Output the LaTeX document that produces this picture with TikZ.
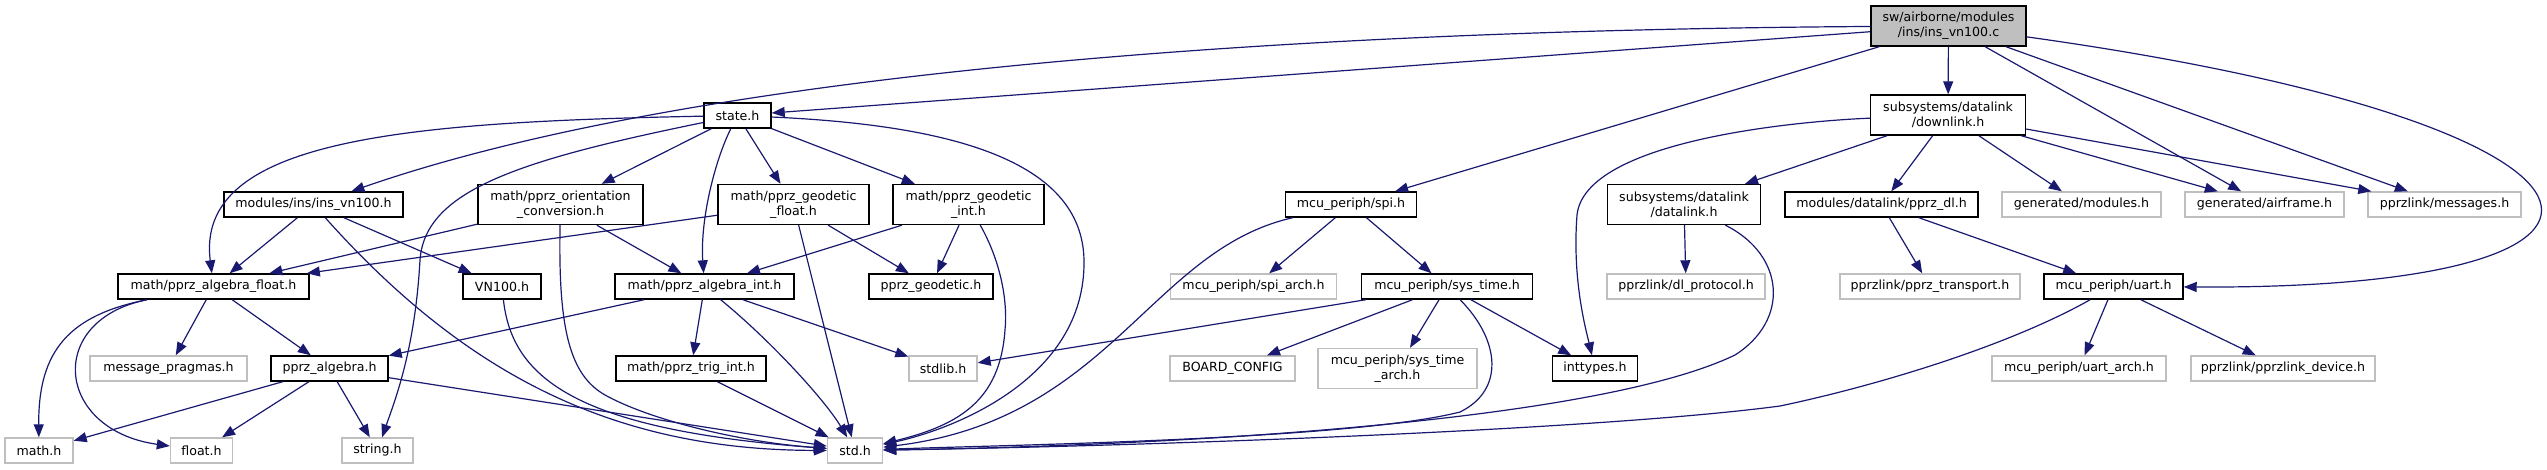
\documentclass[tikz,border=0pt]{standalone}
\usepackage{fontspec}
\setmainfont{DejaVu Sans}
\usetikzlibrary{arrows.meta}
\definecolor{edgec}{HTML}{191970}
\definecolor{greyb}{HTML}{BFBFBF}
\begin{document}
\begin{tikzpicture}[x=1pt,y=-1pt,
  box/.style={draw=black, line width=1.4pt, minimum height=25pt, inner sep=0pt, fill=white,
    font=\fontsize{12.6}{15}\selectfont, align=center},
  gbox/.style={box, draw=greyb},
  two/.style={minimum height=40pt},
  edge/.style={draw=edgec, line width=1.2pt, -{Triangle[length=13pt,width=10pt]}},
]
\useasboundingbox (0,0) rectangle (2547,469);
% rank 0/1
\node[box, two, fill=greyb, minimum width=155pt] (root) at (1948.5,26) {sw/airborne/modules\\/ins/ins\_vn100.c};
\node[box, minimum width=67pt] (state) at (737.5,115.5) {state.h};
\node[box, two, minimum width=155pt] (downlink) at (1948,115) {subsystems/datalink\\/downlink.h};
% rank 2
\node[box, minimum width=179pt] (insh) at (313.5,204.5) {modules/ins/ins\_vn100.h};
\node[box, two, minimum width=165pt] (orient) at (560.5,204.5) {math/pprz\_orientation\\\_conversion.h};
\node[box, two, minimum width=151pt] (geof) at (793.5,204.5) {math/pprz\_geodetic\\\_float.h};
\node[box, two, minimum width=151pt] (geoi) at (968.5,204.5) {math/pprz\_geodetic\\\_int.h};
\node[box, minimum width=131pt] (spi) at (1351,204.5) {mcu\_periph/spi.h};
\node[box, two, minimum width=153pt] (datalink) at (1684,204.5) {subsystems/datalink\\/datalink.h};
\node[box, minimum width=193pt] (ppdl) at (1881.5,204.5) {modules/datalink/pprz\_dl.h};
\node[gbox, minimum width=159pt] (genmod) at (2081.5,204.5) {generated/modules.h};
\node[gbox, minimum width=159pt] (genair) at (2264.5,204.5) {generated/airframe.h};
\node[gbox, minimum width=153pt] (msgs) at (2444.5,204.5) {pprzlink/messages.h};
% rank 3
\node[box, minimum width=191pt] (algf) at (213.5,286.5) {math/pprz\_algebra\_float.h};
\node[box, minimum width=78pt] (vn100) at (502,286.5) {VN100.h};
\node[box, minimum width=179pt] (algi) at (704.5,286.5) {math/pprz\_algebra\_int.h};
\node[box, minimum width=124pt] (geod) at (931,286.5) {pprz\_geodetic.h};
\node[gbox, minimum width=166pt] (spiarch) at (1253.5,286.5) {mcu\_periph/spi\_arch.h};
\node[box, minimum width=171pt] (systime) at (1447,286.5) {mcu\_periph/sys\_time.h};
\node[gbox, minimum width=158pt] (dlproto) at (1686,286.5) {pprzlink/dl\_protocol.h};
\node[gbox, minimum width=180pt] (transport) at (1930,286.5) {pprzlink/pprz\_transport.h};
\node[box, minimum width=139pt] (uart) at (2113.5,286.5) {mcu\_periph/uart.h};
% rank 4
\node[gbox, minimum width=157pt] (pragmas) at (168.5,368.5) {message\_pragmas.h};
\node[box, minimum width=117pt] (alg) at (329.5,368.5) {pprz\_algebra.h};
\node[box, minimum width=150pt] (trig) at (691,368.5) {math/pprz\_trig\_int.h};
\node[gbox, minimum width=68pt] (stdlib) at (943,368.5) {stdlib.h};
\node[gbox, minimum width=125pt] (board) at (1232.5,368.5) {BOARD\_CONFIG};
\node[gbox, two, minimum width=159pt] (starch) at (1397.5,368.5) {mcu\_periph/sys\_time\\\_arch.h};
\node[box, minimum width=85pt] (inttypes) at (1595,368.5) {inttypes.h};
\node[gbox, minimum width=174pt] (uarch) at (2079,368.5) {mcu\_periph/uart\_arch.h};
\node[gbox, minimum width=184pt] (device) at (2283,368.5) {pprzlink/pprzlink\_device.h};
% rank 5
\node[gbox, minimum width=68pt] (math) at (39,450.5) {math.h};
\node[gbox, minimum width=62pt] (float) at (201.5,450.5) {float.h};
\node[gbox, minimum width=71pt] (string) at (377.5,450.5) {string.h};
\node[gbox, minimum width=55pt] (std) at (855,450.5) {std.h};

% root edges
\draw[edge] (root) -- (state);
\draw[edge] (root) .. controls (1300,30) and (700,70) .. (insh);
\draw[edge] (root) -- (spi);
\draw[edge] (root) -- (downlink);
\draw[edge] (root) -- (genair);
\draw[edge] (root) -- (msgs);
\draw[edge] (root) .. controls (2660,125) and (2700,290) .. (uart);
% downlink
\draw[edge] (downlink) -- (datalink);
\draw[edge] (downlink) -- (ppdl);
\draw[edge] (downlink) -- (genmod);
\draw[edge] (downlink) -- (genair);
\draw[edge] (downlink) -- (msgs);
\draw[edge] (downlink) .. controls (1800,121) and (1585,140) .. (1577,215) .. controls (1572,280) and (1586,330) .. (inttypes);
% state
\draw[edge] (state) .. controls (400,122) and (195,140) .. (algf);
\draw[edge] (state) .. controls (520,160) and (425,190) .. (420,260) .. controls (415,350) and (395,400) .. (string);
\draw[edge] (state) -- (orient);
\draw[edge] (state) .. controls (715,160) and (700,220) .. (algi);
\draw[edge] (state) -- (geof);
\draw[edge] (state) -- (geoi);
\draw[edge] (state) .. controls (950,125) and (1082,160) .. (1084,260) .. controls (1086,380) and (950,430) .. (std);
% ins_vn100.h
\draw[edge] (insh) -- (algf);
\draw[edge] (insh) -- (vn100);
\draw[edge] (insh) .. controls (470,380) and (620,450) .. (std);
% orientation
\draw[edge] (orient) -- (algf);
\draw[edge] (orient) -- (algi);
\draw[edge] (orient) .. controls (558,330) and (570,375) .. (605,395) .. controls (650,420) and (740,442) .. (std);
% geodetic float / int
\draw[edge] (geof) -- (algf);
\draw[edge] (geof) -- (geod);
\draw[edge] (geof) -- (std);
\draw[edge] (geoi) -- (algi);
\draw[edge] (geoi) -- (geod);
\draw[edge] (geoi) .. controls (1000,260) and (1008,300) .. (1005,330) .. controls (1000,400) and (960,425) .. (std);
% algebra int
\draw[edge] (algi) -- (alg);
\draw[edge] (algi) -- (trig);
\draw[edge] (algi) .. controls (770,340) and (825,400) .. (std);
\draw[edge] (algi) -- (stdlib);
% pprz_algebra
\draw[edge] (alg) -- (math);
\draw[edge] (alg) -- (float);
\draw[edge] (alg) -- (string);
\draw[edge] (alg) -- (std);
% algebra float
\draw[edge] (algf) .. controls (70,315) and (38,350) .. (math);
\draw[edge] (algf) .. controls (45,320) and (55,430) .. (float);
\draw[edge] (algf) -- (pragmas);
\draw[edge] (algf) -- (alg);
% VN100, trig
\draw[edge] (vn100) .. controls (512,380) and (580,430) .. (std);
\draw[edge] (trig) -- (std);
% spi
\draw[edge] (spi) -- (spiarch);
\draw[edge] (spi) -- (systime);
\draw[edge] (spi) .. controls (1150,250) and (1110,420) .. (std);
% sys_time
\draw[edge] (systime) -- (stdlib);
\draw[edge] (systime) -- (board);
\draw[edge] (systime) -- (starch);
\draw[edge] (systime) .. controls (1500,340) and (1505,390) .. (1460,412) .. controls (1350,440) and (1000,445) .. (std);
\draw[edge] (systime) -- (inttypes);
% datalink
\draw[edge] (datalink) -- (dlproto);
\draw[edge] (datalink) .. controls (1785,255) and (1790,320) .. (1735,355) .. controls (1600,420) and (1200,445) .. (std);
% pprz_dl
\draw[edge] (ppdl) -- (transport);
\draw[edge] (ppdl) -- (uart);
% uart
\draw[edge] (uart) -- (uarch);
\draw[edge] (uart) -- (device);
\draw[edge] (uart) .. controls (2010,345) and (1880,385) .. (1780,406) .. controls (1600,430) and (1150,446) .. (std);
\end{tikzpicture}
\end{document}
